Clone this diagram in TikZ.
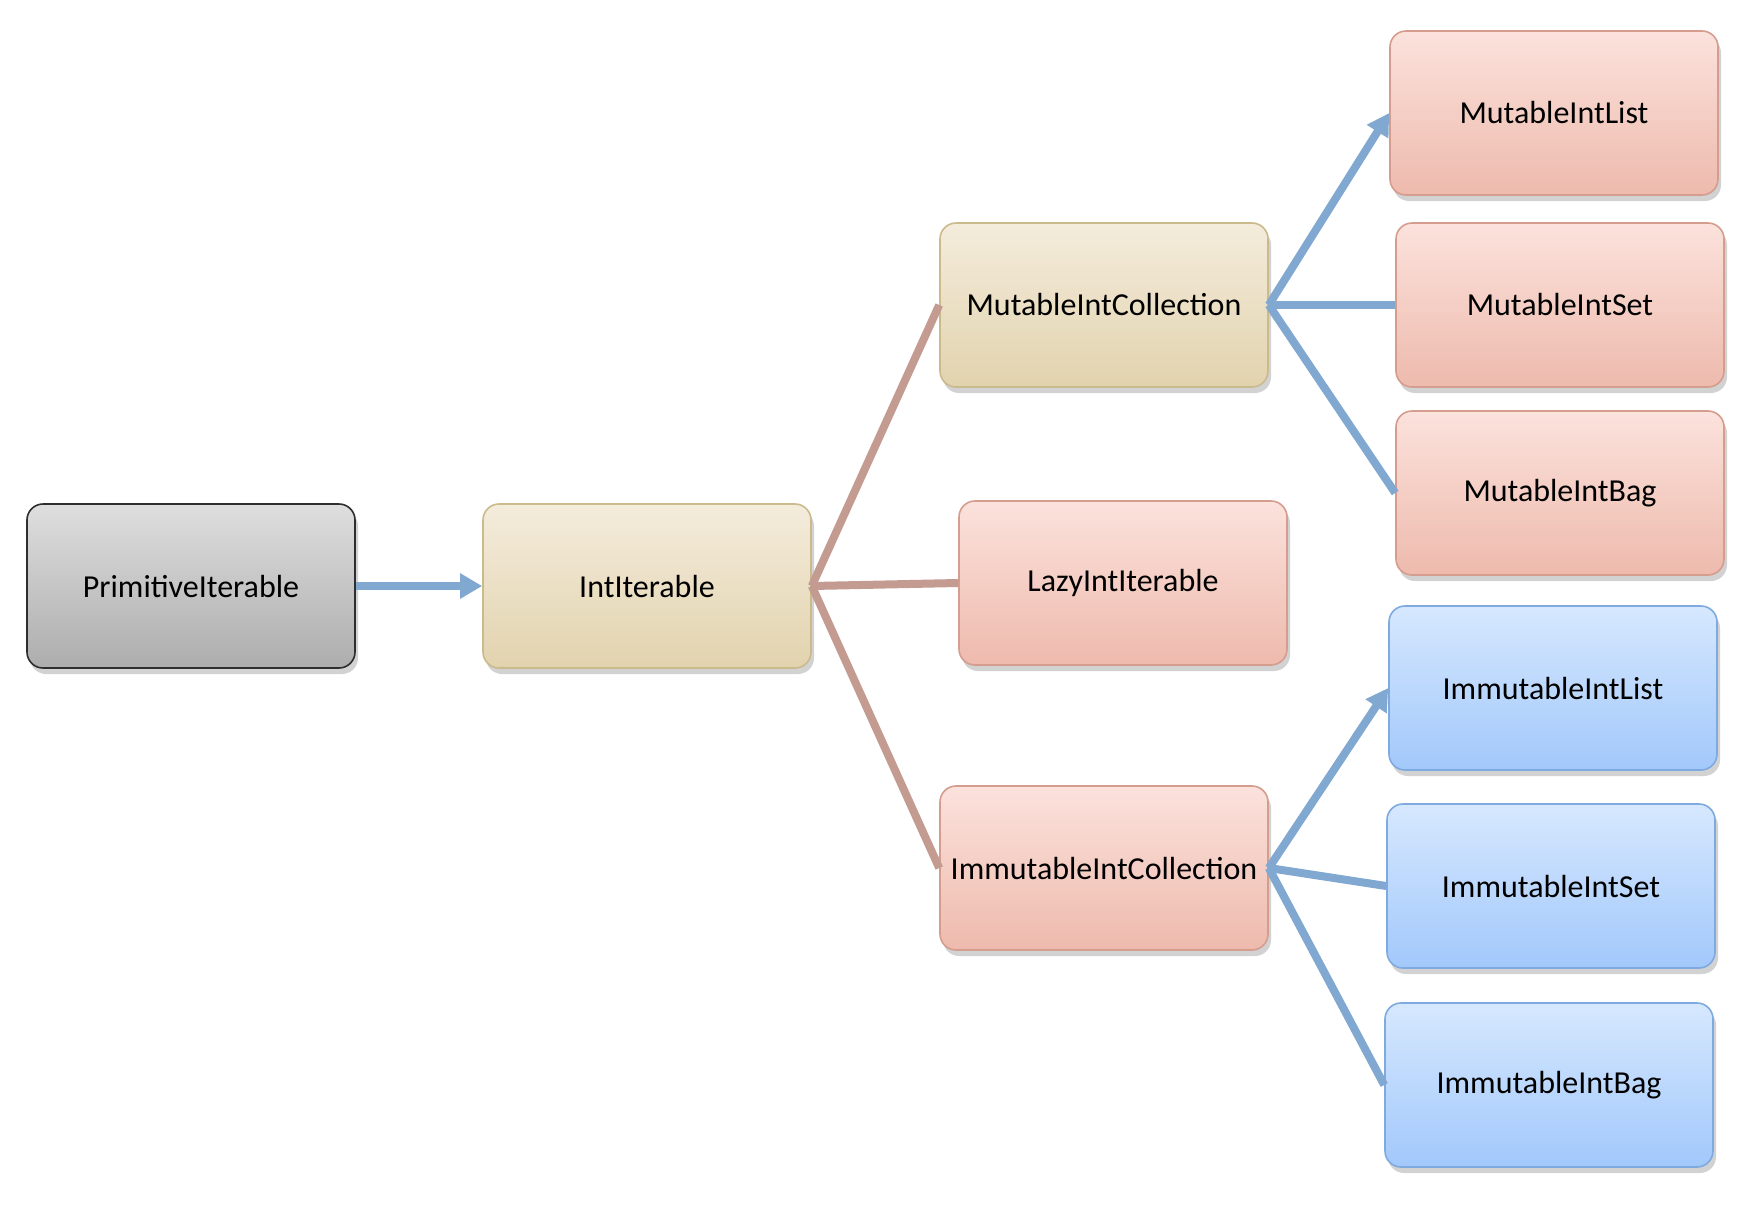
\documentclass[tikz,border=0pt]{standalone}
\usepackage{fontspec}
\setmainfont{Carlito}
\usetikzlibrary{shapes,arrows.meta,positioning,shadows}
\definecolor{linkblue}{HTML}{80A8D0}
\definecolor{linkbrown}{HTML}{C39B90}
\definecolor{grayline}{HTML}{2E2E2E}
\definecolor{graytop}{HTML}{DEDEDE}
\definecolor{graybottom}{HTML}{ADADAD}
\definecolor{tanline}{HTML}{CBBA8C}
\definecolor{tantop}{HTML}{F4ECDC}
\definecolor{tanbottom}{HTML}{E2D3AE}
\definecolor{pinkline}{HTML}{D59D8E}
\definecolor{pinktop}{HTML}{FBE2DC}
\definecolor{pinkbottom}{HTML}{EEBAAD}
\definecolor{blueline}{HTML}{7EAAE0}
\definecolor{bluetop}{HTML}{D6E8FE}
\definecolor{bluebottom}{HTML}{A2C8FB}
\tikzstyle{box} = [draw,rounded corners=8pt,minimum width=164pt,minimum height=82pt,inner sep=0,line width=0.8pt,font=\fontsize{16}{19}\selectfont,drop shadow={shadow xshift=1.5pt,shadow yshift=-3pt,opacity=0.35}]
\tikzstyle{graybox} = [box,draw=grayline,top color=graytop,bottom color=graybottom]
\tikzstyle{tanbox} = [box,draw=tanline,top color=tantop,bottom color=tanbottom]
\tikzstyle{pinkbox} = [box,draw=pinkline,top color=pinktop,bottom color=pinkbottom]
\tikzstyle{bluebox} = [box,draw=blueline,top color=bluetop,bottom color=bluebottom]
\tikzstyle{link} = [-,line width=4pt,linkblue]
\tikzstyle{arrowlink} = [link,-{Triangle[length=11pt,width=12pt]}]
\tikzstyle{parentlink} = [-,line width=4pt,linkbrown]

\begin{document}
\begin{tikzpicture}[x=0.5pt,y=-0.5pt]
      \fill[white] (0,0) rectangle (1756,1226);
      \useasboundingbox (0,0) rectangle (1756,1226);
      \node[graybox] (prim) at (191,586) {PrimitiveIterable};
      \node[tanbox]  (iter) at (647,586) {IntIterable};
      \node[tanbox]  (mcoll) at (1104,305) {MutableIntCollection};
      \node[pinkbox] (lazy) at (1123,583) {LazyIntIterable};
      \node[pinkbox] (icoll) at (1104,868) {ImmutableIntCollection};
      \node[pinkbox] (mlist) at (1554,113) {MutableIntList};
      \node[pinkbox] (mset) at (1560,305) {MutableIntSet};
      \node[pinkbox] (mbag) at (1560,493) {MutableIntBag};
      \node[bluebox] (ilist) at (1553,688) {ImmutableIntList};
      \node[bluebox] (iset) at (1551,886) {ImmutableIntSet};
      \node[bluebox] (ibag) at (1549,1085) {ImmutableIntBag};
      \draw[arrowlink] (prim.east) -- (iter.west);
      \draw[parentlink] (iter.east) -- (mcoll.west);
      \draw[parentlink] (iter.east) -- (lazy.west);
      \draw[parentlink] (iter.east) -- (icoll.west);
      \draw[arrowlink] (mcoll.east) -- (mlist.west);
      \draw[link] (mcoll.east) -- (mset.west);
      \draw[link] (mcoll.east) -- (mbag.west);
      \draw[arrowlink] (icoll.east) -- (ilist.west);
      \draw[link] (icoll.east) -- (iset.west);
      \draw[link] (icoll.east) -- (ibag.west);
    \end{tikzpicture}
\end{document}
